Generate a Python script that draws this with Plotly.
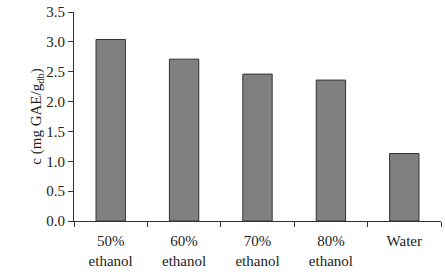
import plotly.graph_objects as go

categories = ["50%<br>ethanol", "60%<br>ethanol", "70%<br>ethanol", "80%<br>ethanol", "Water"]
values = [3.04, 2.71, 2.46, 2.36, 1.13]
y_ticks = [0.0, 0.5, 1.0, 1.5, 2.0, 2.5, 3.0, 3.5]

fig = go.Figure(go.Bar(
    x=categories, y=values, width=0.4,
    marker=dict(color="#808080", line=dict(color="#333333", width=1)),
))

font = dict(family="Liberation Serif, serif", size=15, color="#222222")
fig.update_layout(
    width=445, height=280,
    margin=dict(l=74, r=4, t=9, b=59),
    paper_bgcolor="white", plot_bgcolor="white",
    font=font, showlegend=False,
    bargap=0.6,
)
fig.update_xaxes(
    showline=True, linecolor="#333333", linewidth=1,
    ticks="outside", ticklen=5, tickcolor="#333333", tickson="boundaries",
    showgrid=False, ticklabelstandoff=6,
)
fig.update_yaxes(
    range=[0, 3.5], tickvals=y_ticks, ticktext=[f"{v:.1f}" for v in y_ticks],
    showline=True, linecolor="#333333", linewidth=1,
    ticks="outside", ticklen=5, tickcolor="#333333",
    showgrid=False, zeroline=False,
    title=dict(text="c (mg GAE/g<sub>db</sub>)", standoff=0, font=dict(size=15)),
)
fig.write_html("out.html")
